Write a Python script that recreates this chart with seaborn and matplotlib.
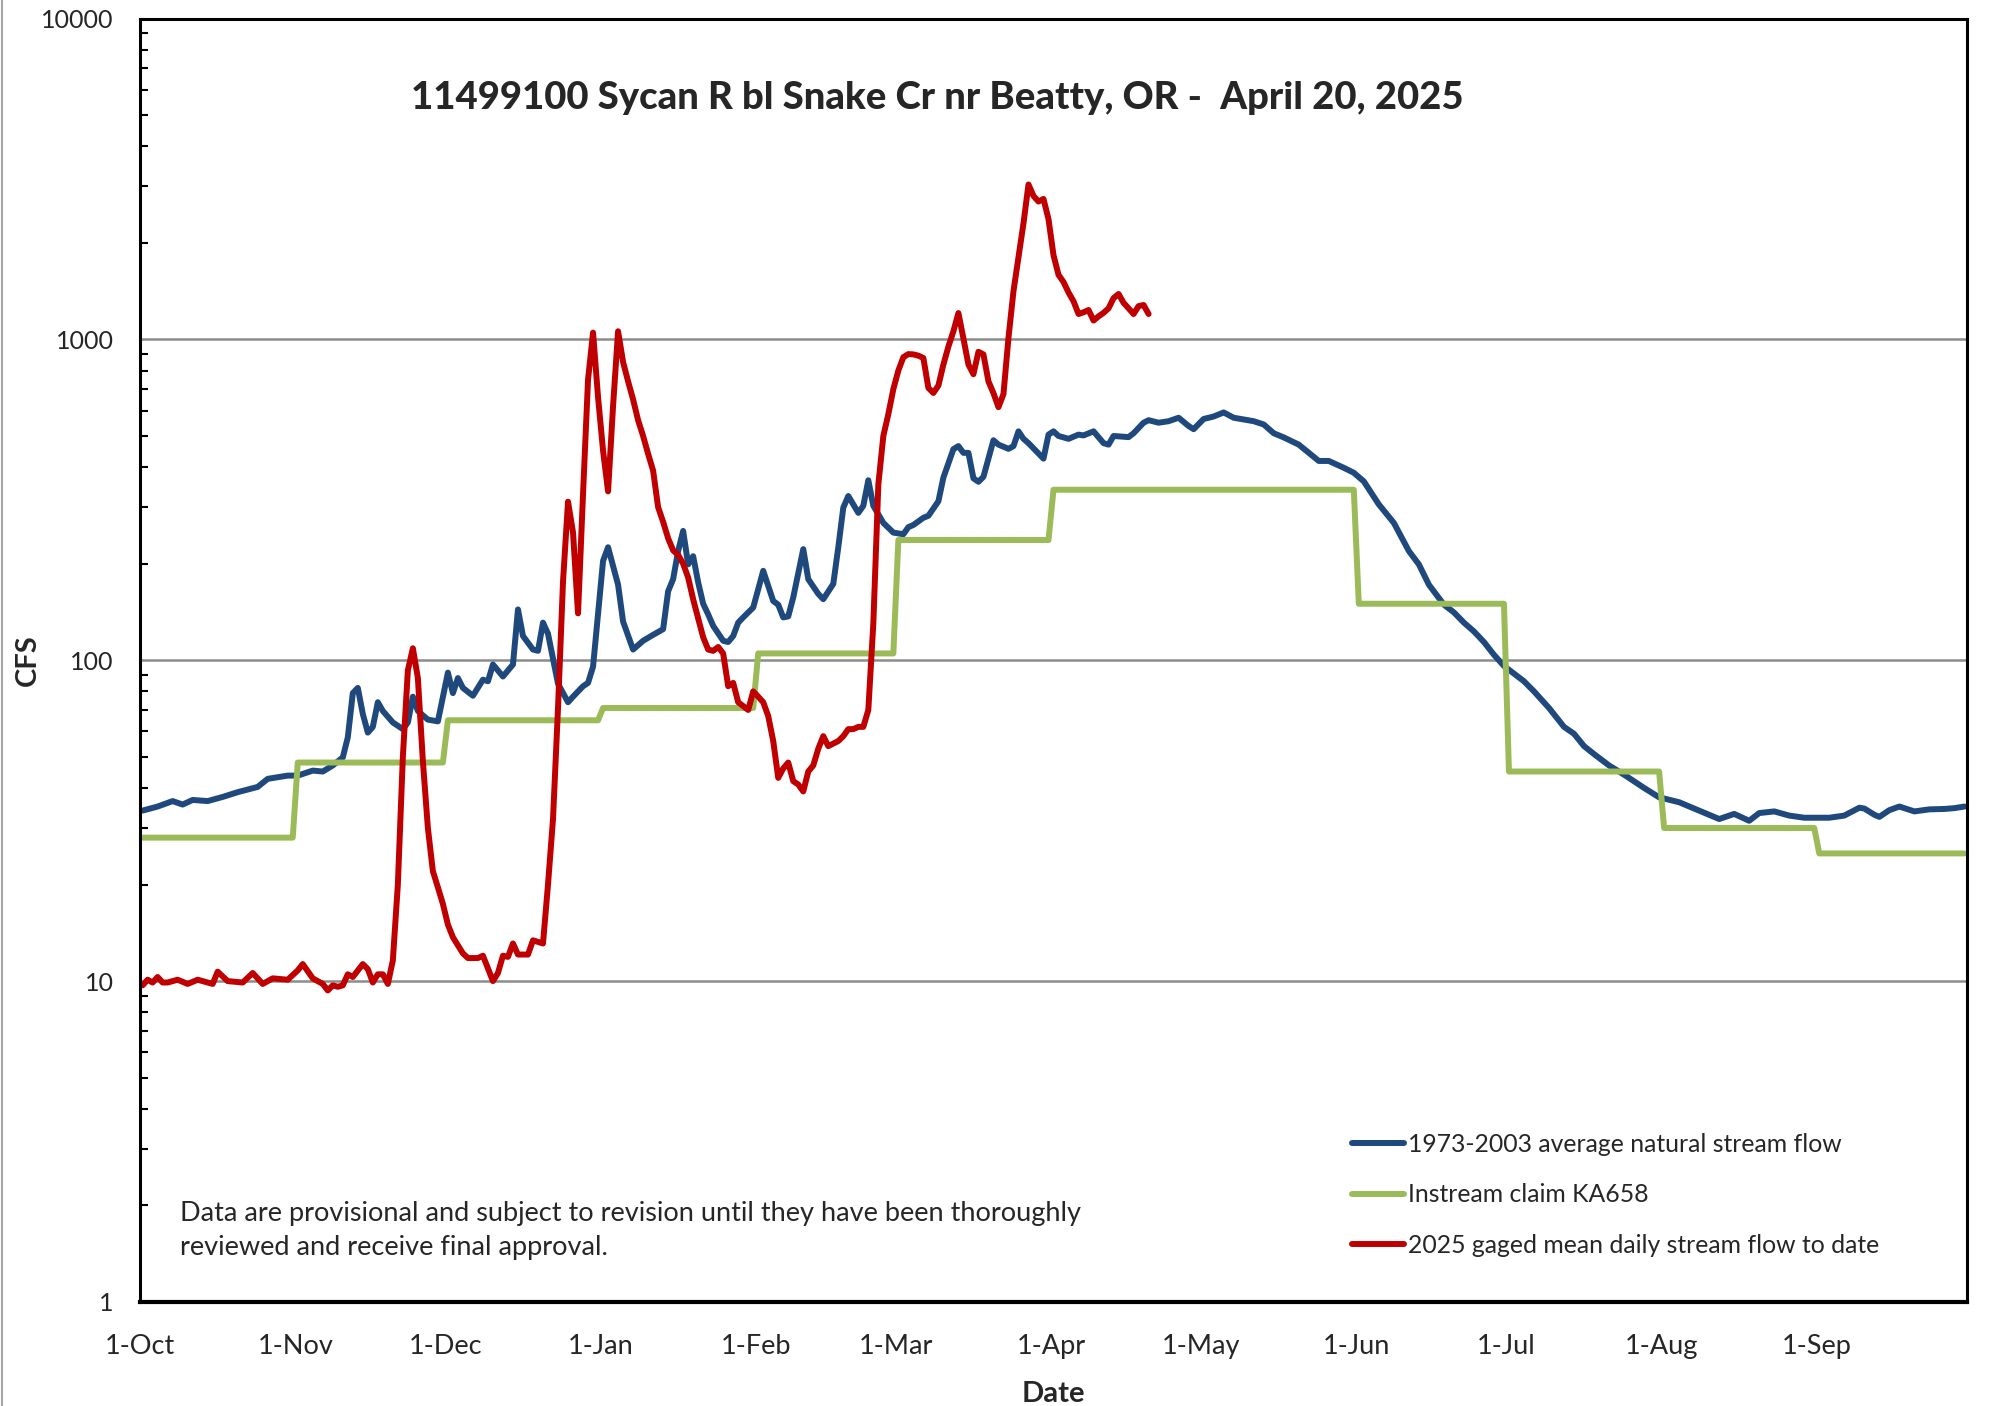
import pandas as pd
import matplotlib
matplotlib.use('Agg')
import matplotlib.pyplot as plt
import matplotlib.ticker as mticker
from matplotlib.lines import Line2D
import seaborn as sns

# --- Data (water year Oct 2024 - Sep 2025), day index counted from 1-Oct ---
blue_day = [0, 3, 6, 8, 10, 13, 16, 19, 23, 25, 29, 31, 34, 36, 38, 40, 41, 42, 43, 44,
            45, 46, 47, 48, 50, 52, 53, 54, 55, 57, 59, 61, 62, 63, 64, 66, 68, 69, 70, 72,
            74, 75, 76, 78, 79, 80, 81, 83, 85, 86, 88, 89, 90, 92, 93, 95, 96, 98, 100, 102,
            104, 105, 106, 107, 108, 109, 110, 111, 112, 113, 114, 116, 117, 118, 119, 120, 122, 124, 126, 127,
            128, 129, 130, 132, 133, 135, 136, 138, 139, 140, 141, 143, 144, 145, 146, 148, 150, 152, 153, 154,
            156, 157, 159, 160, 162, 163, 164, 165, 166, 167, 168, 170, 171, 173, 174, 175, 176, 177, 180, 181,
            182, 183, 185, 187, 188, 190, 192, 193, 194, 197, 198, 200, 201, 203, 205, 207, 209, 210, 212, 214,
            216, 218, 222, 224, 226, 228, 231, 235, 237, 240, 242, 244, 247, 250, 253, 255, 257, 260, 262, 264,
            266, 268, 270, 272, 276, 278, 281, 284, 286, 288, 290, 293, 296, 300, 303, 307, 311, 315, 318, 321,
            323, 326, 329, 332, 337, 340, 343, 344, 346, 347, 349, 351, 354, 357, 360, 362, 364]
blue_cfs = [34.0, 35.0, 36.4, 35.5, 36.7, 36.4, 37.5, 38.8, 40.3, 42.7, 43.7, 43.7, 45.3, 45.0, 47.0, 49.8, 57.5, 79, 82, 68,
            59.5, 62, 74, 69.5, 64, 61, 64, 77, 69.5, 65.3, 64.5, 91.5, 79, 88, 82, 77.5, 87, 86, 97, 89,
            97, 144, 119, 108, 107, 131, 121, 84.5, 74, 77, 83, 85, 95.5, 204, 225, 172, 132, 108, 115, 120,
            125, 164, 179, 219, 253, 199, 211, 175, 150, 139, 128, 115, 114, 119, 131, 136, 146, 190, 153, 149,
            136, 137, 157, 222, 179, 161, 155, 173, 225, 299, 325, 288, 303, 364, 303, 268, 250, 247, 260, 264,
            278, 282, 313, 371, 455, 465, 443, 443, 369, 360, 373, 485, 470, 456, 465, 517, 490, 475, 425, 505,
            517, 500, 490, 505, 502, 517, 475, 470, 500, 496, 510, 550, 560, 550, 556, 570, 537, 525, 565, 575,
            592, 570, 556, 543, 510, 495, 470, 418, 418, 398, 384, 361, 306, 268, 219, 199, 172, 149, 141, 131,
            123, 114, 104, 96, 86, 80, 71, 62, 59, 54, 51, 47, 44, 40, 37.4, 36.1, 34.0, 32.0, 33.2, 31.6,
            33.4, 33.8, 32.8, 32.3, 32.3, 32.8, 34.7, 34.5, 33.0, 32.5, 34.1, 35.0, 33.8, 34.3, 34.4, 34.6, 35.0]

red_day = [0, 1, 2, 3, 4, 5, 7, 9, 11, 14, 15, 17, 20, 22, 24, 26, 29, 31, 32, 34,
           35, 36, 37, 38, 39, 40, 41, 42, 44, 45, 46, 47, 48, 49, 50, 51, 52, 53, 54, 55,
           56, 57, 58, 59, 60, 61, 62, 64, 65, 67, 68, 70, 71, 72, 73, 74, 75, 77, 78, 80,
           81, 82, 83, 84, 85, 86, 87, 88, 89, 90, 91, 92, 93, 94, 95, 96, 97, 98, 99, 100,
           101, 102, 103, 104, 105, 106, 107, 108, 109, 110, 111, 112, 113, 114, 115, 116, 117, 118, 119, 120,
           121, 122, 123, 124, 125, 126, 127, 128, 129, 130, 131, 132, 133, 134, 135, 136, 137, 138, 139, 140,
           141, 142, 143, 144, 145, 146, 147, 148, 149, 150, 151, 152, 153, 154, 155, 156, 157, 158, 159, 160,
           161, 162, 163, 164, 165, 166, 167, 168, 169, 170, 171, 172, 173, 174, 175, 176, 177, 178, 179, 180,
           181, 182, 183, 184, 185, 186, 187, 188, 189, 190, 191, 192, 193, 194, 195, 196, 197, 198, 199, 200,
           201]
red_cfs = [9.7, 10.1, 9.9, 10.3, 9.9, 9.9, 10.1, 9.8, 10.1, 9.8, 10.7, 10.0, 9.9, 10.6, 9.8, 10.2, 10.1, 10.8, 11.3, 10.2,
           10.0, 9.8, 9.35, 9.7, 9.6, 9.7, 10.5, 10.3, 11.3, 10.9, 9.9, 10.5, 10.5, 9.8, 11.6, 20, 50, 93, 109, 88,
           48.5, 30, 22, 19.6, 17.4, 15.0, 13.7, 12.2, 11.8, 11.8, 12.0, 10.0, 10.6, 12.0, 11.9, 13.1, 12.1, 12.1, 13.4, 13.1,
           20, 32, 71, 176, 312, 250, 140, 330, 750, 1050, 660, 450, 336, 620, 1060, 850, 740, 650, 560, 500,
           440, 390, 300, 270, 240, 220, 213, 200, 181, 155, 135, 118, 108, 107, 110, 105, 83, 85, 74, 72,
           70, 80, 77, 74, 67, 56, 43, 46, 48, 42, 41, 39, 45, 47, 53, 58, 54, 55, 56, 58,
           61, 61, 62, 62, 70, 130, 353, 500, 585, 700, 800, 880, 900, 898, 890, 875, 706, 681, 718, 835,
           950, 1060, 1208, 1007, 835, 779, 915, 898, 740, 680, 615, 675, 1010, 1413, 1800, 2300, 3040, 2800, 2690, 2740,
           2370, 1830, 1590, 1510, 1400, 1315, 1200, 1215, 1235, 1145, 1180, 1210, 1250, 1345, 1385, 1300, 1250, 1200, 1270, 1280,
           1200]

# Instream claim KA658, one value per month (Oct..Sep)
claim_cfs = [28, 48, 65, 71, 105, 237, 340, 340, 150, 45, 30, 25]
month_labels = ['1-Oct', '1-Nov', '1-Dec', '1-Jan', '1-Feb', '1-Mar',
                '1-Apr', '1-May', '1-Jun', '1-Jul', '1-Aug', '1-Sep']

start = pd.Timestamp('2024-10-01')
half = pd.Timedelta(hours=12)   # daily values sit in the middle of each day
blue = pd.DataFrame({'date': start + pd.to_timedelta(blue_day, unit='D') + half, 'cfs': blue_cfs})
red = pd.DataFrame({'date': start + pd.to_timedelta(red_day, unit='D') + half, 'cfs': red_cfs})

month_starts = pd.date_range(start, periods=12, freq='MS')
claim_dates, claim_vals = [], []
for ms, v in zip(month_starts, claim_cfs):
    me = ms + pd.offsets.MonthEnd(0)
    claim_dates += [ms + half, me + half]
    claim_vals += [v, v]
claim = pd.DataFrame({'date': claim_dates, 'cfs': claim_vals})

# --- Plot ---
sns.set_style('white')
plt.rcParams['font.family'] = ['Lato', 'DejaVu Sans']

fig = plt.figure(figsize=(19.9, 14.06), dpi=100)
ax = fig.add_axes([0.0704, 0.074, 0.918, 0.9128])

lw = 4.3
sns.lineplot(data=blue, x='date', y='cfs', ax=ax, color='#1F497D', linewidth=lw,
             label='1973-2003 average natural stream flow', errorbar=None)
sns.lineplot(data=claim, x='date', y='cfs', ax=ax, color='#9BBB59', linewidth=lw,
             label='Instream claim KA658', errorbar=None)
sns.lineplot(data=red, x='date', y='cfs', ax=ax, color='#C00000', linewidth=lw,
             label='2025 gaged mean daily stream flow to date', errorbar=None)

ax.set_yscale('log')
ax.set_ylim(1, 10000)
ax.set_xlim(start, pd.Timestamp('2025-10-01'))

ax.yaxis.set_major_locator(mticker.FixedLocator([1, 10, 100, 1000, 10000]))
ax.yaxis.set_major_formatter(mticker.FixedFormatter(['1', '10', '100', '1000', '10000']))
ax.yaxis.set_minor_locator(mticker.LogLocator(base=10, subs=range(2, 10)))
ax.yaxis.set_minor_formatter(mticker.NullFormatter())

tick_dates = list(month_starts) + [pd.Timestamp('2025-10-01')]
ax.set_xticks(tick_dates)
ax.set_xticklabels(month_labels + [''])
ax.xaxis.set_minor_locator(mticker.NullLocator())

ax.tick_params(axis='both', which='major', direction='out', length=9, width=1.8, color='black')
ax.tick_params(axis='y', which='major', pad=10, labelsize=18)
ax.tick_params(axis='x', which='major', pad=14, labelsize=19.5)
ax.tick_params(axis='y', which='minor', direction='in', length=6, width=1.5, color='black', left=True)

ax.grid(False)
ax.yaxis.grid(True, which='major', color='#8c8c8c', linewidth=1.8)

for side in ['left', 'right', 'top', 'bottom']:
    ax.spines[side].set_visible(True)
    ax.spines[side].set_color('black')
    ax.spines[side].set_linewidth(2.2)
ax.spines['bottom'].set_linewidth(3)

ax.set_xlabel('Date', fontsize=21, fontweight='bold', labelpad=16)
ax.set_ylabel('CFS', fontsize=21, fontweight='bold')
ax.yaxis.set_label_coords(-0.0545, 0.5)

fig.text(0.471, 0.930, '11499100 Sycan R bl Snake Cr nr Beatty, OR -  April 20, 2025',
         ha='center', va='center', fontsize=27.5, fontweight='black')

ax.text(0.022, 0.0553,
        'Data are provisional and subject to revision until they have been thoroughly\n'
        'reviewed and receive final approval.',
        transform=ax.transAxes, fontsize=19.5, va='center', ha='left', linespacing=1.45)

ax.legend(loc='upper left', bbox_to_anchor=(0.658, 0.1397), frameon=False, fontsize=17.8,
          handlelength=2.1, handletextpad=0.15, labelspacing=1.12, borderaxespad=0)

# thin grey chart-area border on the left edge
fig.add_artist(Line2D([0.0008, 0.0008], [0, 1], transform=fig.transFigure,
                      color='#a6a6a6', linewidth=1.5))

plt.savefig('out.png', dpi=100)
plt.close()
